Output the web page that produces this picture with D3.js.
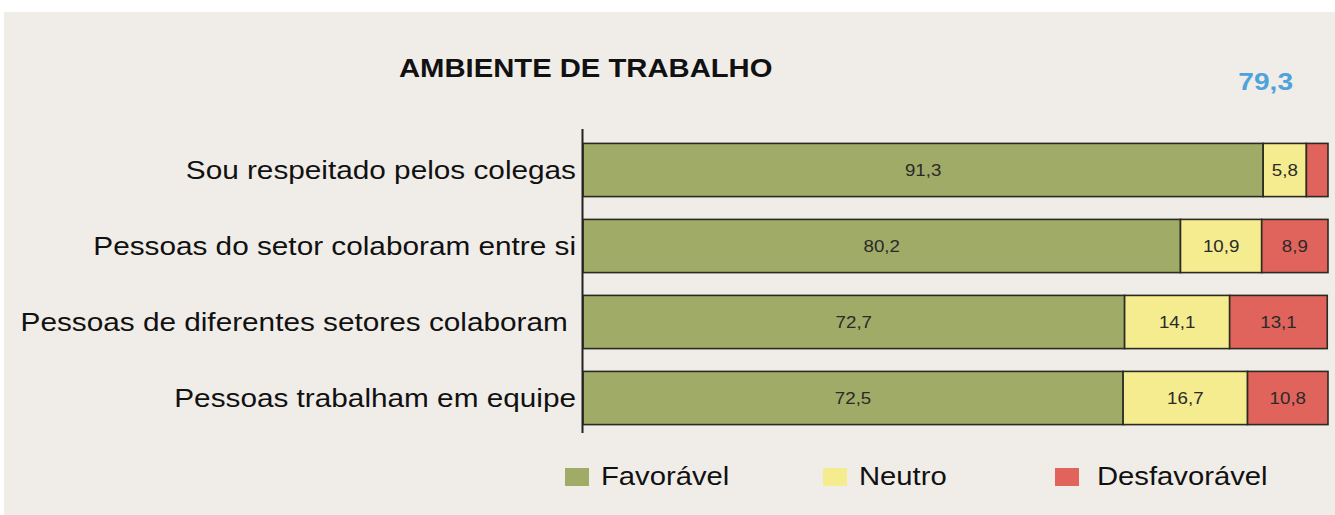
<!DOCTYPE html>
<html>
<head>
<meta charset="utf-8">
<script src="https://cdn.jsdelivr.net/npm/d3@7"></script>
<style>
  body { margin: 0; background: #fff; }
  text { font-family: "Liberation Sans", Arial, sans-serif; }
</style>
</head>
<body>
<script>
// data
var categories = ["Sou respeitado pelos colegas", "Pessoas do setor colaboram entre si", "Pessoas de diferentes setores colaboram ", "Pessoas trabalham em equipe"];
var favoravel = [91.3, 80.2, 72.7, 72.5];
var neutro = [5.8, 10.9, 14.1, 16.7];
var desfavoravel = [2.9, 8.9, 13.1, 10.8];
var seriesNames = ["Favorável", "Neutro", "Desfavorável"];
var colors = ["#a0ab67", "#f4ec8e", "#e0645c"];
var overall = "79,3";

var W = 1335, H = 515;
var SX = 1.17; // text in the source is a bit wide

function place(x, y, s) { return "translate(" + x + "," + y + ") scale(" + (s || SX) + ",1)"; }

var svg = d3.select("body").append("svg")
    .attr("width", W)
    .attr("height", H);

// beige panel
svg.append("rect")
    .attr("x", 4).attr("y", 12)
    .attr("width", W - 4).attr("height", H - 12)
    .attr("fill", "#f0ede9");

var rows = categories.map(function(c, i) {
  return { cat: c, vals: [favoravel[i], neutro[i], desfavoravel[i]] };
});

var stack = d3.stack().keys([0, 1, 2]).value(function(d, k) { return d.vals[k]; });
var stacked = stack(rows);

var x = d3.scaleLinear().domain([0, 100]).range([583, 1328]);
var y = d3.scaleBand().domain(categories).range([132, 436]).paddingInner(0.3).paddingOuter(0.15);

// bars
var groups = svg.selectAll("g.series")
    .data(stacked)
    .enter().append("g")
    .attr("class", "series")
    .attr("fill", function(d, i) { return colors[i]; });

groups.selectAll("rect")
    .data(function(d) { return d; })
    .enter().append("rect")
    .attr("x", function(d) { return x(d[0]); })
    .attr("y", function(d) { return y(d.data.cat); })
    .attr("width", function(d) { return x(d[1]) - x(d[0]); })
    .attr("height", y.bandwidth())
    .attr("stroke", "#2b2b22")
    .attr("stroke-width", 1.6);

// value labels
groups.selectAll("text")
    .data(function(d, i) { return d.map(function(p) { return { p: p, k: i }; }); })
    .enter().append("text")
    .filter(function(d) { return d.p[1] - d.p[0] > 4; })
    .attr("transform", function(d) {
      return place((x(d.p[0]) + x(d.p[1])) / 2, y(d.p.data.cat) + y.bandwidth() / 2);
    })
    .attr("dy", "0.36em")
    .attr("text-anchor", "middle")
    .attr("fill", "#2a2a2a")
    .style("font-size", "16px")
    .text(function(d) { return d3.format(".1f")(d.p.data.vals[d.k]).replace(".", ","); });

// axis line
svg.append("line")
    .attr("x1", 582.5).attr("x2", 582.5)
    .attr("y1", 129).attr("y2", 433)
    .attr("stroke", "#222").attr("stroke-width", 2);

// category labels
svg.selectAll("text.cat")
    .data(categories)
    .enter().append("text")
    .attr("class", "cat")
    .attr("transform", function(d) { return place(576, y(d) + y.bandwidth() / 2, 1.19); })
    .attr("dy", "0.36em")
    .attr("text-anchor", "end")
    .style("white-space", "pre")
    .style("font-size", "25px")
    .attr("fill", "#111")
    .text(function(d) { return d; });

// title
svg.append("text")
    .attr("transform", place(399, 77))
    .style("font-size", "25px")
    .style("font-weight", "bold")
    .attr("fill", "#111")
    .text("AMBIENTE DE TRABALHO");

svg.append("text")
    .attr("transform", place(1293, 90))
    .attr("text-anchor", "end")
    .style("font-size", "24px")
    .style("font-weight", "bold")
    .attr("fill", "#4fa3dc")
    .text(overall);

// legend
var legendX = [565, 823, 1055];
var leg = svg.selectAll("g.leg")
    .data(seriesNames)
    .enter().append("g")
    .attr("class", "leg")
    .attr("transform", function(d, i) { return "translate(" + legendX[i] + ",0)"; });

leg.append("rect")
    .attr("x", 0).attr("y", 468)
    .attr("width", 24).attr("height", 18)
    .attr("fill", function(d, i) { return colors[i]; });

leg.append("text")
    .attr("transform", function(d, i) { return place(i == 2 ? 42 : 36, 485); })
    .style("font-size", "25px")
    .attr("fill", "#111")
    .text(function(d) { return d; });
</script>
</body>
</html>
